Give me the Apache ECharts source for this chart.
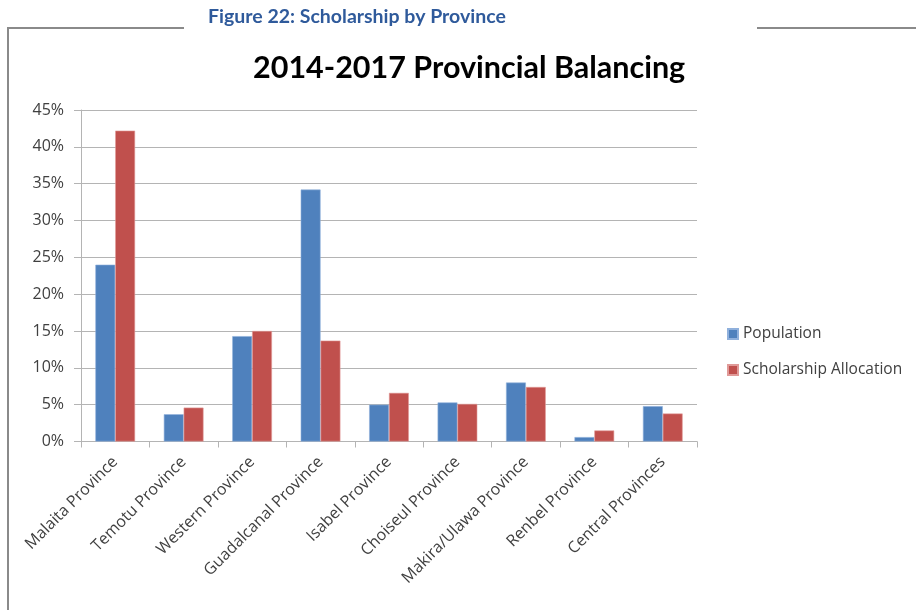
<!DOCTYPE html>
<html>
<head>
<meta charset="utf-8">
<script src="https://cdn.jsdelivr.net/npm/echarts@6/dist/echarts.min.js"></script>
<style>
  html, body { margin: 0; padding: 0; background: #ffffff; }
  #chart { width: 916px; height: 610px; }
</style>
</head>
<body>
<div id="chart"></div>
<script>
// Provinces on the category axis
const provinces = [
  'Malaita Province', 'Temotu Province', 'Western Province', 'Guadalcanal Province',
  'Isabel Province', 'Choiseul Province', 'Makira/Ulawa Province', 'Renbel Province',
  'Central Provinces'
];
// Share of national population (%)
const population = [24.0, 3.7, 14.3, 34.2, 5.0, 5.3, 8.0, 0.6, 4.8];
// Share of scholarship awards (%)
const scholarshipAllocation = [42.2, 4.6, 15.0, 13.7, 6.6, 5.1, 7.4, 1.5, 3.8];
// Value axis ticks
const yTicks = [0, 5, 10, 15, 20, 25, 30, 35, 40, 45];

const axisFont = '"Open Sans", "DejaVu Sans", sans-serif';
const textGrey = '#404040';
const lineGrey = '#b4b4b4';

const chart = echarts.init(document.getElementById('chart'), null, { renderer: 'canvas' });

chart.setOption({
  backgroundColor: '#ffffff',
  animation: false,
  title: [
    {
      text: 'Figure 22: Scholarship by Province',
      left: 203, top: 2,
      textStyle: { fontFamily: 'Lato, "Open Sans", sans-serif', fontWeight: 'bold', fontSize: 19.5, color: '#2f5a9b' }
    },
    {
      text: '2014-2017 Provincial Balancing',
      left: 248, top: 48,
      textStyle: { fontFamily: 'Lato, "Open Sans", sans-serif', fontWeight: 'bold', fontSize: 30.5, color: '#000000' }
    }
  ],
  graphic: [
    // outer frame of the figure box, broken around the caption
    {
      type: 'polyline', silent: true,
      shape: { points: [[184, 28], [8, 28], [8, 612]] },
      style: { stroke: '#8a8a8a', lineWidth: 2, fill: null }
    },
    {
      type: 'line', silent: true,
      shape: { x1: 757, y1: 28, x2: 918, y2: 28 },
      style: { stroke: '#8a8a8a', lineWidth: 2 }
    }
  ],
  legend: {
    orient: 'vertical',
    left: 722, top: 321,
    itemWidth: 10, itemHeight: 10, itemGap: 20,
    icon: 'rect',
    textStyle: { fontFamily: axisFont, fontSize: 15.5, color: textGrey },
    data: ['Population', 'Scholarship Allocation']
  },
  grid: { left: 81, right: 219, top: 110, bottom: 168.5, containLabel: false },
  xAxis: {
    type: 'category',
    data: provinces,
    boundaryGap: true,
    axisLine: { show: true, lineStyle: { color: lineGrey, width: 1 } },
    axisTick: { show: true, length: 6, inside: false, lineStyle: { color: lineGrey } },
    axisLabel: {
      rotate: 45, margin: 18, interval: 0,
      fontFamily: axisFont, fontSize: 16, color: textGrey
    },
    splitLine: { show: false }
  },
  yAxis: {
    type: 'value',
    min: yTicks[0], max: yTicks[yTicks.length - 1], interval: yTicks[1] - yTicks[0],
    axisLine: { show: true, lineStyle: { color: lineGrey, width: 1 } },
    axisTick: { show: true, length: 7, inside: false, lineStyle: { color: lineGrey } },
    axisLabel: {
      margin: 17, fontFamily: axisFont, fontSize: 16, color: textGrey,
      formatter: v => v + '%'
    },
    splitLine: { show: true, lineStyle: { color: lineGrey, width: 1 } }
  },
  series: [
    {
      name: 'Population', type: 'bar',
      data: population,
      barGap: '0%', barCategoryGap: '42%',
      itemStyle: { color: '#4f81bd', borderColor: '#8fb0dc', borderWidth: 0.6 }
    },
    {
      name: 'Scholarship Allocation', type: 'bar',
      data: scholarshipAllocation,
      barGap: '0%', barCategoryGap: '42%',
      itemStyle: { color: '#c0504d', borderColor: '#e09a98', borderWidth: 0.6 }
    }
  ]
});
</script>
</body>
</html>
